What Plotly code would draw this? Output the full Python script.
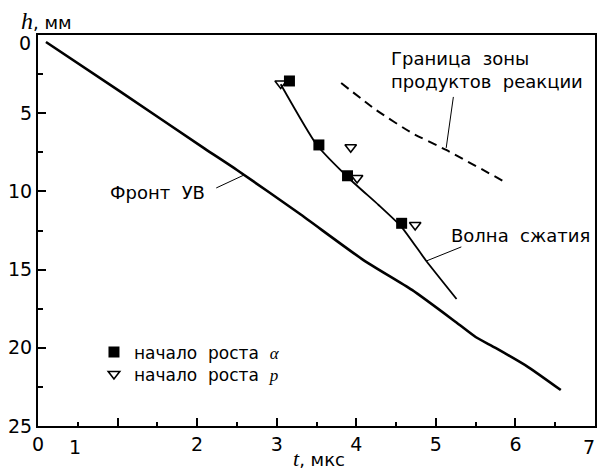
import plotly.graph_objects as go

# Shock front (Фронт УВ): t, мкс vs h, мм
front_t = [0.10, 1.03, 2.09, 2.50, 3.28, 4.09, 4.70, 5.25, 5.50, 5.75, 6.16, 6.57]
front_h = [0.45, 3.60, 7.25, 8.63, 11.40, 14.39, 16.30, 18.35, 19.31, 20.01, 21.23, 22.70]

# Compression wave (Волна сжатия)
wave_t = [3.05, 3.50, 3.93, 4.28, 4.57, 4.88, 5.26]
wave_h = [3.15, 7.00, 9.27, 10.87, 12.28, 14.45, 16.88]

# Boundary of the reaction products zone (dashed)
zone_t = [3.81, 4.25, 4.70, 5.13, 5.87]
zone_h = [3.07, 4.80, 6.27, 7.35, 9.40]

# Onset of growth of alpha (filled squares) and p (open triangles)
alpha_t = [3.16, 3.53, 3.89, 4.57]
alpha_h = [2.94, 7.03, 9.00, 12.04]
p_t = [3.05, 3.93, 4.01, 4.74]
p_h = [3.10, 7.18, 9.14, 12.15]

# Leader lines from labels to curves: (t0, h0, t1, h1)
leader_front = [2.24, 9.78, 2.59, 8.95]
leader_wave = [4.88, 14.45, 5.32, 13.55]
leader_zone = [5.22, 3.96, 5.13, 7.22]

x_tickvals = [0, 1, 2, 3, 4, 5, 6, 7]
x_ticktext = ["0", "", "2", "3", "4", "5", "6", ""]
x_minor = [0.5, 1.5, 2.5, 3.5, 4.5, 5.5, 6.5]
y_tickvals = [0, 5, 10, 15, 20, 25]
y_ticktext = ["", "5", "10", "15", "20", "25"]
y_minor = [2.5, 7.5, 12.5, 17.5, 22.5]

SANS = "DejaVu Sans, Arial, sans-serif"
SERIF_SPAN = "font-family:Liberation Serif"

fig = go.Figure()

fig.add_trace(go.Scatter(x=front_t, y=front_h, mode="lines",
                         line=dict(color="black", width=2.6, shape="spline", smoothing=0.6),
                         showlegend=False, hoverinfo="skip"))
fig.add_trace(go.Scatter(x=wave_t, y=wave_h, mode="lines",
                         line=dict(color="black", width=1.8, shape="spline", smoothing=0.5),
                         showlegend=False, hoverinfo="skip"))
fig.add_trace(go.Scatter(x=zone_t, y=zone_h, mode="lines",
                         line=dict(color="black", width=2, dash="9px,6px",
                                   shape="spline", smoothing=0.5),
                         showlegend=False, hoverinfo="skip"))

for seg in (leader_front, leader_wave, leader_zone):
    fig.add_trace(go.Scatter(x=[seg[0], seg[2]], y=[seg[1], seg[3]], mode="lines",
                             line=dict(color="black", width=1), showlegend=False,
                             hoverinfo="skip"))

fig.add_trace(go.Scatter(
    x=alpha_t, y=alpha_h, mode="markers", legend="legend",
    marker=dict(symbol="square", size=11, color="black", line=dict(width=0)),
    name=("начало  роста  "
          f"<span style='{SERIF_SPAN};font-size:17px'><i>α</i></span>")))
fig.add_trace(go.Scatter(
    x=p_t, y=p_h, mode="markers", legend="legend2",
    marker=dict(symbol="triangle-down-open", size=10, color="black",
                line=dict(width=1.6, color="black")),
    name=("начало  роста  "
          f"<span style='{SERIF_SPAN};font-size:17px'><i>p</i></span>")))

annotations = [
    dict(x=2.12, y=10.04, xref="x", yref="y", text="Фронт  УВ", showarrow=False,
         xanchor="right", yanchor="middle", font=dict(size=18)),
    dict(x=5.16, y=12.79, xref="x", yref="y", text="Волна  сжатия", showarrow=False,
         xanchor="left", yanchor="middle", font=dict(size=18)),
    dict(x=4.41, y=2.24, xref="x", yref="y", text="Граница  зоны<br>продуктов  реакции",
         showarrow=False, xanchor="left", yanchor="middle", align="left",
         font=dict(size=18)),
    # tick labels placed off their ticks
    dict(x=0.46, y=0, xref="x", yref="paper", text="1", showarrow=False,
         xanchor="center", yanchor="top", yshift=-8, font=dict(size=19)),
    dict(x=7, y=0, xref="x", yref="paper", text="7", showarrow=False,
         xanchor="right", yanchor="top", yshift=-8, xshift=2, font=dict(size=19)),
    dict(x=0, y=0, xref="paper", yref="y", text="0", showarrow=False,
         xanchor="right", yanchor="middle", xshift=-5, yshift=-8, font=dict(size=19)),
    # axis titles
    dict(x=-0.034, y=1.035, xref="paper", yref="paper", xanchor="left", yanchor="middle",
         text=(f"<span style='{SERIF_SPAN};font-size:24px'><i>h</i></span>"
               "<span style='font-size:18px'>, мм</span>"), showarrow=False),
    dict(x=0.455, y=-0.082, xref="paper", yref="paper", xanchor="left", yanchor="middle",
         text=(f"<span style='{SERIF_SPAN};font-size:22px'><i>t</i></span>"
               "<span style='font-size:18px'>, мкс</span>"), showarrow=False),
]

axis_common = dict(showline=True, linewidth=2, linecolor="black", mirror=True,
                   showgrid=False, zeroline=False, ticks="inside", tickcolor="black",
                   tickwidth=1.8, ticklen=8, tickfont=dict(size=19, color="black"))

legend_common = dict(xanchor="left", yanchor="top", bgcolor="rgba(0,0,0,0)",
                     font=dict(size=17, family=SANS, color="black"), itemclick=False)

fig.update_layout(
    width=599, height=470,
    margin=dict(l=38, r=2, t=35, b=44),
    plot_bgcolor="white", paper_bgcolor="white",
    font=dict(family=SANS, color="black", size=18),
    xaxis=dict(range=[0, 7], tickmode="array", tickvals=x_tickvals, ticktext=x_ticktext,
               minor=dict(tickmode="array", tickvals=x_minor, ticks="inside",
                          ticklen=4, tickwidth=1.5, tickcolor="black", showgrid=False),
               **axis_common),
    yaxis=dict(range=[25, 0], tickmode="array", tickvals=y_tickvals, ticktext=y_ticktext,
               minor=dict(tickmode="array", tickvals=y_minor, ticks="inside",
                          ticklen=5, tickwidth=1.5, tickcolor="black", showgrid=False),
               **axis_common),
    showlegend=True,
    legend=dict(x=0.1005, y=0.234, **legend_common),
    legend2=dict(x=0.1005, y=0.178, **legend_common),
    annotations=annotations,
)

fig.write_html("out.html")
